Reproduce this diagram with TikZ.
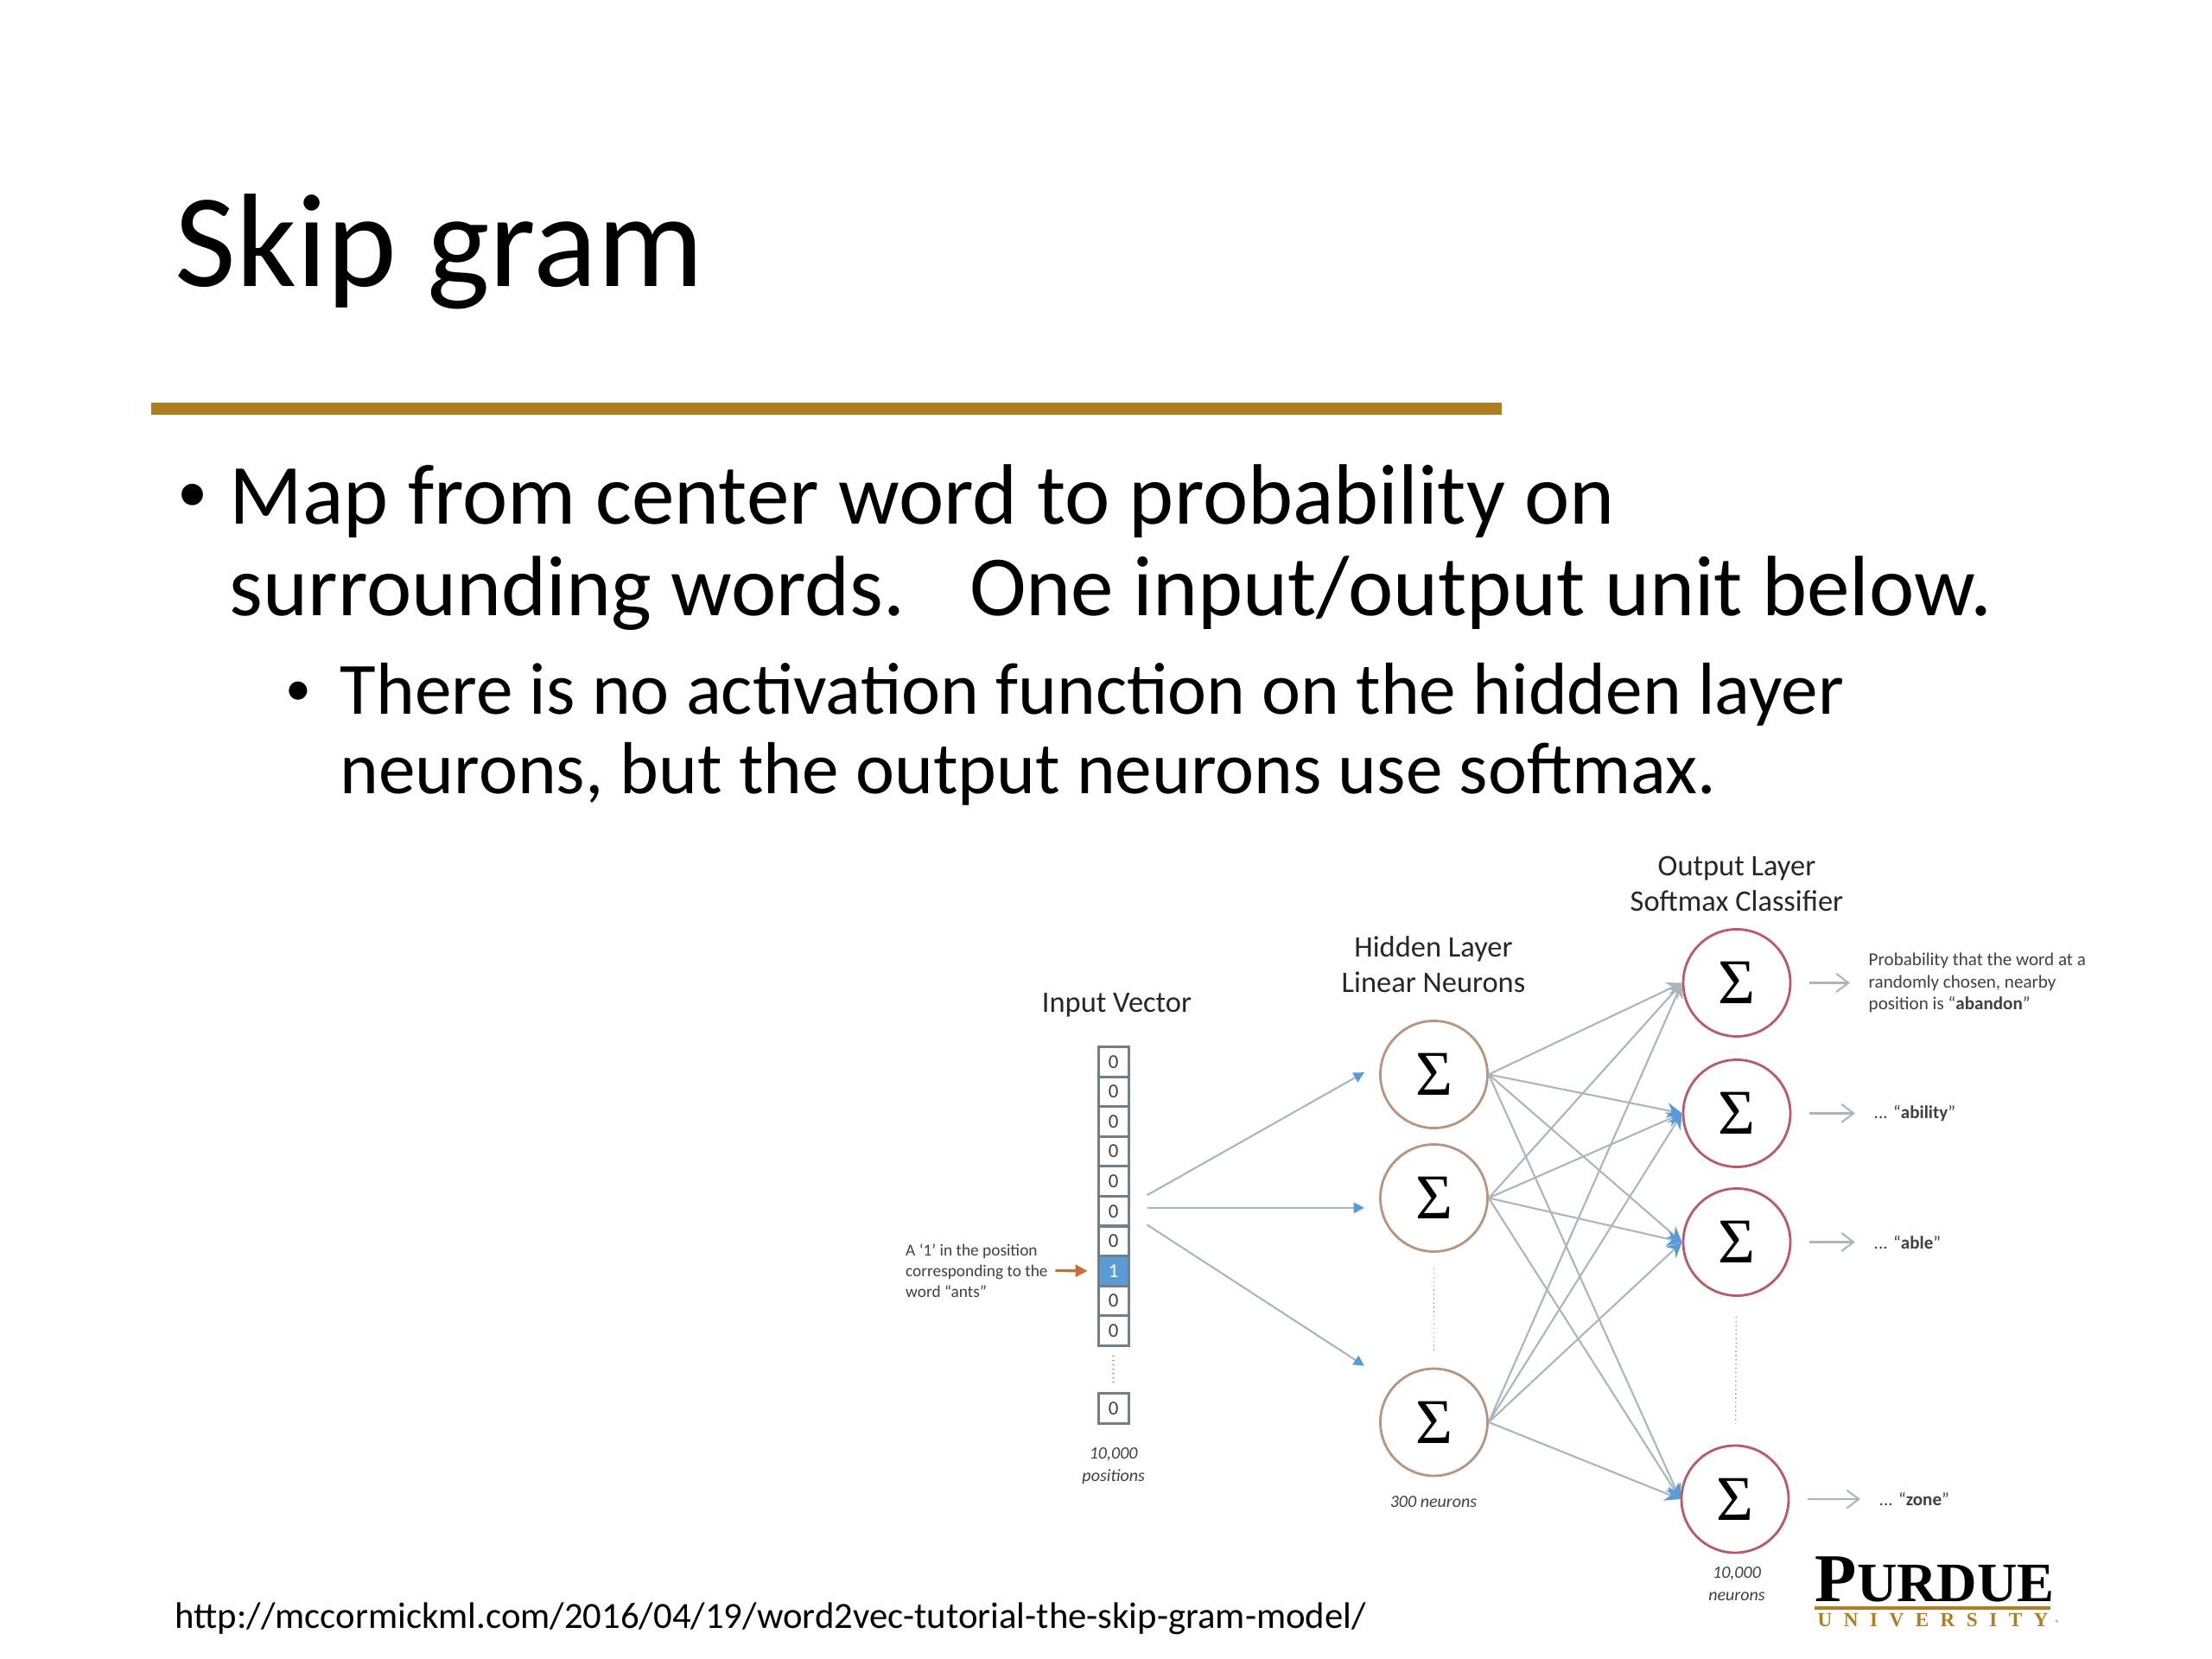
\documentclass[tikz,border=0pt]{standalone}
\usepackage{fontspec}
\setmainfont{Carlito}
\newfontfamily\sigmafont{Liberation Serif}
\newfontfamily\logofont{Liberation Serif}
\usetikzlibrary{arrows.meta}

\definecolor{rulegold}{HTML}{AE7F22}
\definecolor{edgegray}{HTML}{A9B6BD}
\definecolor{tipblue}{HTML}{5B9BD5}
\definecolor{cellgray}{HTML}{6F7F8C}
\definecolor{hiddenring}{HTML}{B8957F}
\definecolor{outputring}{HTML}{B85A68}
\definecolor{pointer}{HTML}{C5703A}

\tikzset{
    textline/.style={anchor=base west,inner sep=0pt,align=left},
    cell/.style={draw=cellgray,line width=0.9pt,minimum width=0.35cm,minimum height=0.346cm,inner sep=0pt,font=\fontsize{6.5}{7}\selectfont,text=black!75},
    hiddenunit/.style={circle,draw=hiddenring,line width=0.8pt,fill=white,minimum size=1.24cm,inner sep=0pt,font=\sigmafont\fontsize{21}{21}\selectfont},
    outputunit/.style={circle,draw=outputring,line width=0.8pt,fill=white,minimum size=1.24cm,inner sep=0pt,font=\sigmafont\fontsize{21}{21}\selectfont},
    headline/.style={align=center,inner sep=0pt,font=\fontsize{9.8}{11.6}\selectfont,text=black!85},
    smallnote/.style={align=left,inner sep=0pt,font=\fontsize{6}{7.2}\selectfont,text=black!75},
    countnote/.style={align=center,inner sep=0pt,font=\fontsize{5.7}{7.4}\selectfont\itshape,text=black!75},
    inputedge/.style={draw=edgegray,line width=0.6pt,-{Triangle[length=3.5pt,width=3.5pt,color=tipblue]}},
    netedge/.style={draw=edgegray,line width=0.6pt,-{Stealth[length=5pt,width=5pt,color=#1]}},
    outedge/.style={draw=edgegray,line width=0.6pt,shorten <=0.21cm,shorten >=0.21cm,-{Straight Barb[length=4pt,width=6pt]}},
    gapline/.style={draw=edgegray!85!black,line width=0.4pt,densely dotted}
}

\begin{document}
\begin{tikzpicture}
            \useasboundingbox (0,0) rectangle (25.6,19.2);

            \node[textline,font=\fontsize{43.8}{43.8}\selectfont] (title) at (2.02,15.88) {Skip gram};
            \fill[rulegold] (1.75,14.40) rectangle (17.38,14.54);

            \node[textline,font=\fontsize{20}{20}\selectfont] (dotA) at (2.05,13.27) {•};
            \node[textline,font=\fontsize{28.2}{30.4}\selectfont] (bodyA) at (2.65,12.07) {Map from center word to probability on\\surrounding words. \ \ One input/output unit below.};
            \node[textline,font=\fontsize{17}{17}\selectfont] (dotB) at (3.30,11.03) {•};
            \node[textline,font=\fontsize{24.27}{26.2}\selectfont] (bodyB) at (3.93,10.01) {There is no activation function on the hidden layer\\neurons, but the output neurons use softmax.};
            \node[textline,font=\fontsize{12.16}{12.16}\selectfont] (source) at (2.02,0.35) {http://mccormickml.com/2016/04/19/word2vec-tutorial-the-skip-gram-model/};

            % input vector
            \foreach \i/\val in {1/0,2/0,3/0,4/0,5/0,6/0,7/0,9/0,10/0} {
                \node[cell] (cell\i) at (12.887,{7.258-0.346*\i}) {\val};
            }
            \node[cell,fill=tipblue,text=white] (cell8) at (12.887,{7.258-0.346*8}) {1};
            \node[cell] (cellN) at (12.887,2.90) {0};
            \draw[gapline,line width=0.8pt,shorten <=0.1cm,shorten >=0.1cm] (cell10) -- (cellN);

            \node[headline] (inputhead) at (12.925,7.565) {Input Vector};
            \node[countnote] (positions) at (12.887,2.235) {10,000\\positions};
            \node[smallnote,anchor=west,font=\fontsize{5.5}{6.8}\selectfont] (ants) at (10.475,4.495) {A ‘1’ in the position\\corresponding to the\\word “ants”};
            \draw[draw=pointer,line width=0.9pt,shorten <=0.08cm,shorten >=0.11cm,-{Triangle[length=4pt,width=4pt]}] (ants.east) -- (cell8.west);

            % hidden layer
            \node[hiddenunit] (h1) at (16.595,6.765) {Σ};
            \node[hiddenunit] (h2) at (16.595,5.335) {Σ};
            \node[hiddenunit] (h3) at (16.595,2.74) {Σ};
            \draw[gapline,shorten <=0.18cm,shorten >=0.2cm] (h2) -- (h3);
            \node[headline] (hiddenhead) at (16.59,8.04) {Hidden Layer\\Linear Neurons};
            \node[countnote] (hcount) at (16.59,1.82) {300 neurons};

            % output layer
            \node[outputunit] (o1) at (20.10,7.825) {Σ};
            \node[outputunit] (o2) at (20.10,6.315) {Σ};
            \node[outputunit] (o3) at (20.10,4.825) {Σ};
            \node[outputunit] (o4) at (20.08,1.85) {Σ};
            \draw[gapline,shorten <=0.23cm,shorten >=0.24cm] (o3) -- (o4);
            \node[headline] (outputhead) at (20.10,8.97) {Output Layer\\Softmax Classifier};
            \node[countnote] (ocount) at (20.10,0.87) {10,000\\neurons};

            \coordinate (fanA) at (13.276,5.368);
            \coordinate (fanB) at (13.276,5.221);
            \coordinate (fanC) at (13.276,5.025);
            \coordinate (inA) at (15.79,6.789);
            \coordinate (inB) at (15.79,5.221);
            \coordinate (inC) at (15.79,3.393);
            \draw[inputedge] (fanA) -- (inA);
            \draw[inputedge] (fanB) -- (inB);
            \draw[inputedge] (fanC) -- (inC);

            \foreach \a in {1,2,3} {
                \foreach \b/\tip in {1/edgegray,2/tipblue,3/tipblue,4/tipblue} {
                    \draw[netedge=\tip] (h\a.east) -- (o\b.west);
                }
            }

            \node[smallnote,anchor=west] (p1) at (21.62,7.825) {Probability that the word at a\\randomly chosen, nearby\\position is “\textbf{abandon}”};
            \node[smallnote,anchor=west] (p2) at (21.68,6.315) {... “\textbf{ability}”};
            \node[smallnote,anchor=west] (p3) at (21.68,4.825) {... “\textbf{able}”};
            \node[smallnote,anchor=west] (p4) at (21.74,1.85) {... “\textbf{zone}”};
            \foreach \b in {1,2,3,4} {
                \draw[outedge] (o\b.east) -- (p\b.west);
            }

            % logo
            \node[textline,font=\logofont\bfseries\fontsize{22.5}{22.5}\selectfont] (purdue) at (21.0,0.665) {P\fontsize{18.3}{18.3}\selectfont URDUE};
            \fill[rulegold] (21.0,0.57) rectangle (23.73,0.61);
            \node[textline,text=rulegold,font=\logofont\bfseries\fontsize{6.6}{7}\selectfont\addfontfeatures{LetterSpace=58}] (univ) at (21.03,0.37) {UNIVERSITY};
            \node[textline,text=gray,font=\fontsize{3}{3}\selectfont] (regmark) at (23.78,0.37) {®};
        \end{tikzpicture}
\end{document}
